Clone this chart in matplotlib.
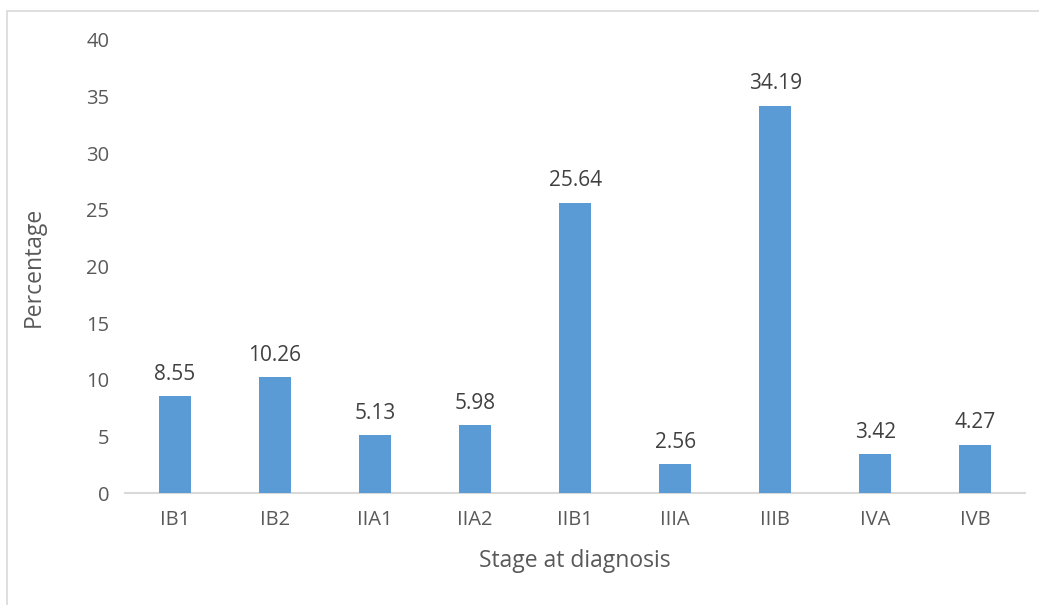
import matplotlib.pyplot as plt
from matplotlib.patches import Rectangle

stages = ["IB1", "IB2", "IIA1", "IIA2", "IIB1", "IIIA", "IIIB", "IVA", "IVB"]
percent = [8.55, 10.26, 5.13, 5.98, 25.64, 2.56, 34.19, 3.42, 4.27]
yticks = [0, 5, 10, 15, 20, 25, 30, 35, 40]

plt.rcParams['font.family'] = ['Open Sans', 'DejaVu Sans']
text_col = "#595959"

fig = plt.figure(figsize=(10.39, 6.05), dpi=100)
ax = fig.add_axes([0.120, 0.185, 0.867, 0.749])

x = range(len(stages))
bars = ax.bar(x, percent, width=0.32, color="#5B9BD5", zorder=3)
for b, v in zip(bars, percent):
    ax.text(b.get_x() + b.get_width() / 2, v + 1.0, f"{v:.2f}",
            ha="center", va="bottom", fontsize=15, color="#404040")

ax.set_xlim(-0.5, len(stages) - 0.5)
ax.set_ylim(0, 40)
ax.set_yticks(yticks)
ax.set_xticks(list(x))
ax.set_xticklabels(stages)
ax.tick_params(axis="both", length=0, labelsize=14.5, colors=text_col)
ax.tick_params(axis="x", pad=12)
ax.tick_params(axis="y", pad=11)

for s in ["top", "right", "left"]:
    ax.spines[s].set_visible(False)
ax.spines["bottom"].set_color("#D9D9D9")
ax.spines["bottom"].set_linewidth(1.5)

ax.set_xlabel("Stage at diagnosis", fontsize=16.5, color=text_col, labelpad=14)
ax.set_ylabel("Percentage", fontsize=16.5, color=text_col, labelpad=29)

# light outline around the chart area
fig.patches.append(Rectangle((7 / 1039, -0.01), 1.05, 1 - 11 / 605 + 0.01,
                             transform=fig.transFigure, fill=False,
                             edgecolor="#D9D9D9", linewidth=1.2))

fig.savefig("out.png", dpi=100)
